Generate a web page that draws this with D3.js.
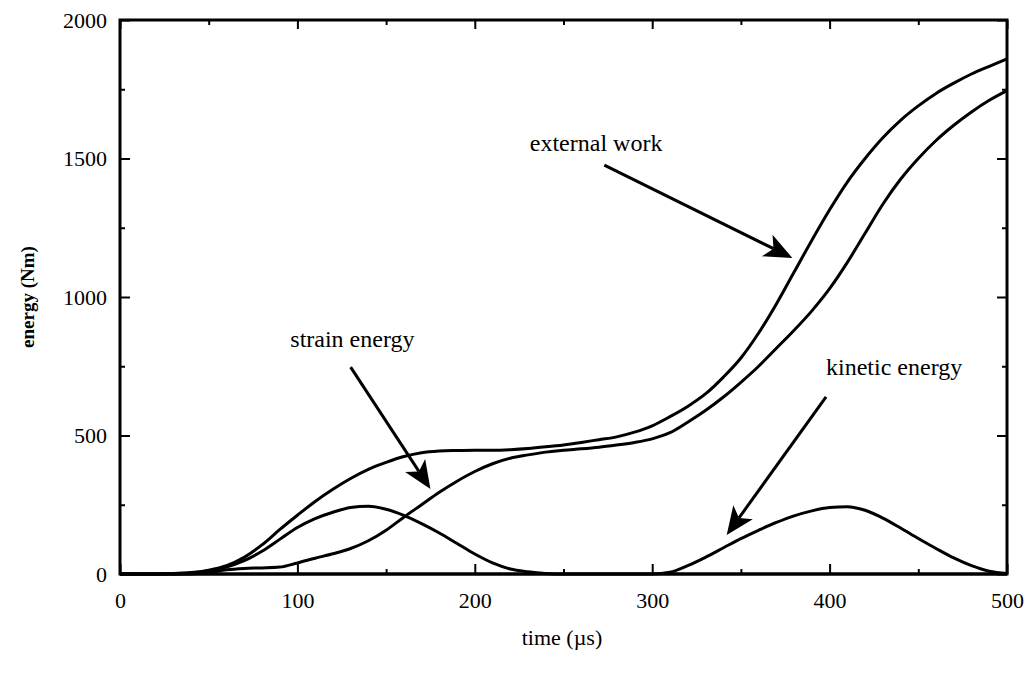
<!DOCTYPE html>
<html lang="en">

<head>
    <meta charset="UTF-8">
    <title>energy</title>
    <script src="https://d3js.org/d3.v7.min.js"></script>
    <style>
        body { margin: 0; background: white; }
    </style>
</head>

<body>
    <script>

        // time in microseconds
        var time = [0, 10, 20, 30, 40, 50, 60, 70, 80, 90,
            100, 110, 120, 130, 140, 150, 160, 170, 180, 190,
            200, 210, 220, 230, 240, 250, 260, 270, 280, 290,
            300, 310, 320, 330, 340, 350, 360, 370, 380, 390,
            400, 410, 420, 430, 440, 450, 460, 470, 480, 490, 500];

        var externalWork = [0, 0, 0, 2, 5, 14, 30, 60, 105, 160,
            212, 262, 306, 345, 378, 403, 424, 438, 444, 446,
            447, 447, 449, 453, 459, 466, 475, 485, 495, 512,
            535, 568, 605, 650, 710, 780, 870, 975, 1090, 1205,
            1315, 1415, 1500, 1575, 1638, 1690, 1735, 1772, 1805, 1833, 1860];

        var internalEnergy = [0, 0, 0, 0, 0, 5, 15, 20, 22, 25,
            40, 57, 73, 92, 120, 158, 205, 250, 295, 335,
            370, 398, 418, 430, 440, 447, 452, 458, 466, 475,
            488, 510, 548, 590, 638, 692, 750, 815, 880, 950,
            1030, 1125, 1230, 1335, 1425, 1500, 1565, 1620, 1668, 1710, 1745];

        var strainEnergy = [0, 0, 0, 0, 4, 12, 25, 48, 82, 125,
            168, 200, 223, 240, 245, 234, 212, 182, 148, 110,
            72, 40, 18, 8, 2, 0, 0, 0, 0, 0,
            0, 0, 0, 0, 0, 0, 0, 0, 0, 0,
            0, 0, 0, 0, 0, 0, 0, 0, 0, 0, 0];

        var kineticEnergy = [0, 0, 0, 0, 0, 0, 0, 0, 0, 0,
            0, 0, 0, 0, 0, 0, 0, 0, 0, 0,
            0, 0, 0, 0, 0, 0, 0, 0, 0, 0,
            0, 6, 30, 60, 94, 128, 158, 186, 210, 228,
            240, 243, 230, 202, 166, 128, 92, 58, 30, 10, 2];

        var xTicks = [0, 100, 200, 300, 400, 500];
        var yTicks = [0, 500, 1000, 1500, 2000];

        // label text, label anchor (t, energy), arrow start and tip (t, energy)
        var labels = [
            { text: "external work", t: 231, e: 1527, from: [273, 1476], to: [379, 1141] },
            { text: "strain energy", t: 96, e: 819, from: [130, 747], to: [175, 307] },
            { text: "kinetic energy", t: 398, e: 718, from: [398, 639], to: [342, 141] }
        ];

        var svg = d3.select("body").append("svg")
            .attr("width", 1029)
            .attr("height", 673);

        var x = d3.scaleLinear().domain([0, 500]).range([120, 1007]);
        var y = d3.scaleLinear().domain([0, 2000]).range([574, 20]);

        var serif = "'Liberation Serif', 'Times New Roman', serif";
        var fmt = d3.format("d");

        // axes, ticks pointing inward
        function styleAxis(g) {
            g.select(".domain").remove();
            g.selectAll("line").attr("stroke", "black").attr("stroke-width", 2);
            g.selectAll("text")
                .attr("font-family", serif)
                .attr("font-size", 22)
                .attr("fill", "black");
        }

        var minorX = d3.range(50, 500, 100);
        var minorY = d3.range(250, 2000, 500);

        svg.append("g").attr("transform", "translate(0,574)")
            .call(d3.axisBottom(x).tickValues(xTicks).tickSize(-10).tickPadding(18).tickFormat(fmt))
            .call(styleAxis);
        svg.append("g").attr("transform", "translate(0,574)")
            .call(d3.axisBottom(x).tickValues(minorX).tickSize(-5).tickFormat(""))
            .call(styleAxis);
        svg.append("g").attr("transform", "translate(0,20)")
            .call(d3.axisTop(x).tickValues(xTicks).tickSize(-9).tickFormat(""))
            .call(styleAxis);
        svg.append("g").attr("transform", "translate(0,20)")
            .call(d3.axisTop(x).tickValues(minorX).tickSize(-5).tickFormat(""))
            .call(styleAxis);

        svg.append("g").attr("transform", "translate(120,0)")
            .call(d3.axisLeft(y).tickValues(yTicks).tickSize(-10).tickPadding(13).tickFormat(fmt))
            .call(styleAxis);
        svg.append("g").attr("transform", "translate(120,0)")
            .call(d3.axisLeft(y).tickValues(minorY).tickSize(-5).tickFormat(""))
            .call(styleAxis);
        svg.append("g").attr("transform", "translate(1007,0)")
            .call(d3.axisRight(y).tickValues(yTicks).tickSize(-10).tickFormat(""))
            .call(styleAxis);
        svg.append("g").attr("transform", "translate(1007,0)")
            .call(d3.axisRight(y).tickValues(minorY).tickSize(-5).tickFormat(""))
            .call(styleAxis);

        // frame
        svg.append("rect")
            .attr("x", x(0))
            .attr("y", y(2000))
            .attr("width", x(500) - x(0))
            .attr("height", y(0) - y(2000))
            .attr("fill", "none")
            .attr("stroke", "black")
            .attr("stroke-width", 3);

        // curves
        var line = d3.line()
            .x(function (d, i) { return x(time[i]); })
            .y(function (d) { return y(d); })
            .curve(d3.curveMonotoneX);

        [externalWork, internalEnergy, strainEnergy, kineticEnergy].forEach(function (s) {
            svg.append("path")
                .attr("d", line(s))
                .attr("fill", "none")
                .attr("stroke", "black")
                .attr("stroke-width", 3)
                .attr("stroke-linejoin", "round");
        });

        // annotations with arrows
        labels.forEach(function (a) {
            svg.append("text")
                .attr("x", x(a.t))
                .attr("y", y(a.e))
                .attr("font-family", serif)
                .attr("font-size", 24)
                .text(a.text);

            var x1 = x(a.from[0]), y1 = y(a.from[1]);
            var x2 = x(a.to[0]), y2 = y(a.to[1]);
            var ang = Math.atan2(y2 - y1, x2 - x1);
            var len = 28, half = 12;
            var bx = x2 - len * Math.cos(ang), by = y2 - len * Math.sin(ang);
            var nx = -Math.sin(ang), ny = Math.cos(ang);
            var notchX = x2 - (len - 7) * Math.cos(ang), notchY = y2 - (len - 7) * Math.sin(ang);

            svg.append("line")
                .attr("x1", x1).attr("y1", y1)
                .attr("x2", notchX).attr("y2", notchY)
                .attr("stroke", "black")
                .attr("stroke-width", 3);

            svg.append("path")
                .attr("d", "M" + x2 + "," + y2 +
                    "L" + (bx + nx * half) + "," + (by + ny * half) +
                    "L" + notchX + "," + notchY +
                    "L" + (bx - nx * half) + "," + (by - ny * half) + "Z")
                .attr("fill", "black");
        });

        // axis titles
        svg.append("text")
            .attr("x", 562)
            .attr("y", 645)
            .attr("text-anchor", "middle")
            .attr("font-family", serif)
            .attr("font-size", 22)
            .text("time (\u00b5s)");

        svg.append("text")
            .attr("transform", "translate(34,297) rotate(-90)")
            .attr("text-anchor", "middle")
            .attr("font-family", serif)
            .attr("font-weight", "bold")
            .attr("font-size", 19)
            .text("energy (Nm)");

    </script>

</body>

</html>
